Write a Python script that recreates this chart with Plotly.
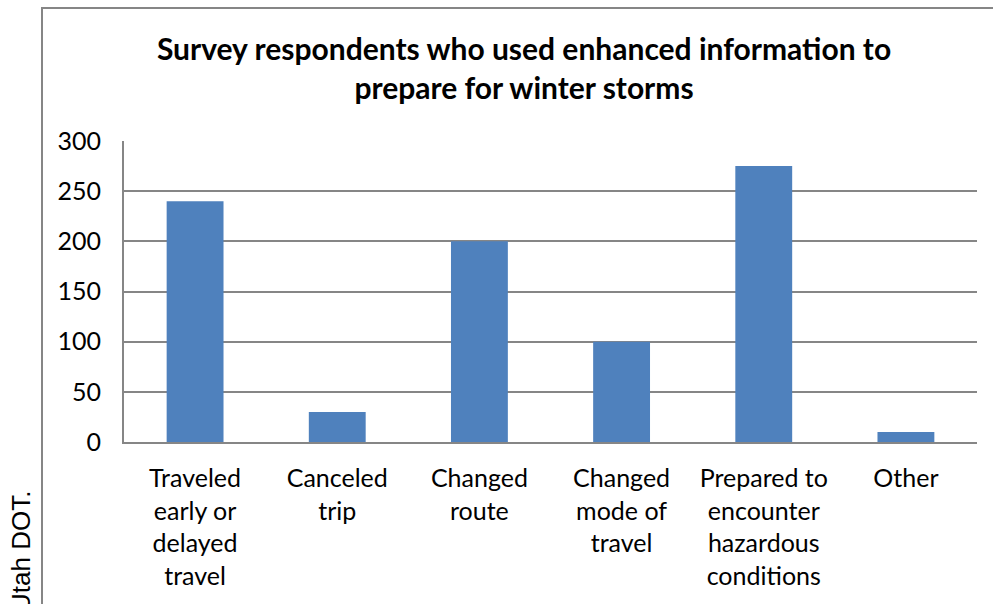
import plotly.graph_objects as go

# Survey responses: actions taken after using enhanced winter storm information
categories = [
    "Traveled<br>early or<br>delayed<br>travel",
    "Canceled<br>trip",
    "Changed<br>route",
    "Changed<br>mode of<br>travel",
    "Prepared to<br>encounter<br>hazardous<br>conditions",
    "Other",
]
respondents = [240, 30, 200, 100, 275, 10]
y_ticks = [0, 50, 100, 150, 200, 250, 300]

W, H = 993, 604
L, R, T, B = 124, 16, 141, 162
PW = W - L - R
PH = H - T - B

def px_x(p):
    return (p - L) / PW

def px_y(p):
    return (H - B - p) / PH

fig = go.Figure(
    go.Bar(
        x=categories,
        y=respondents,
        marker=dict(color="#4F81BD", line=dict(width=0)),
        hoverinfo="x+y",
    )
)

FONT = "Lato, Carlito, Calibri, sans-serif"

fig.update_layout(
    width=W,
    height=H,
    margin=dict(l=L, r=R, t=T, b=B),
    paper_bgcolor="white",
    plot_bgcolor="white",
    bargap=0.6,
    showlegend=False,
    font=dict(family=FONT, size=25, color="black"),
    title=dict(
        text="<b>Survey respondents who used enhanced information to<br>prepare for winter storms</b>",
        xref="container",
        x=524 / W,
        xanchor="center",
        yref="container",
        y=1 - 60 / H,
        yanchor="middle",
        font=dict(family=FONT, size=30, color="black"),
    ),
    xaxis=dict(
        showgrid=False,
        showline=True,
        linecolor="#868686",
        linewidth=2,
        ticks="",
        tickfont=dict(size=25),
        ticklabelstandoff=13,
    ),
    yaxis=dict(
        range=[0, 300],
        tickvals=y_ticks,
        showgrid=True,
        gridcolor="#868686",
        gridwidth=2,
        showline=True,
        linecolor="#868686",
        linewidth=2,
        zeroline=False,
        ticks="",
        tickfont=dict(size=25),
        ticklabelstandoff=16,
    ),
)

# Chart border
fig.add_shape(
    type="rect", xref="paper", yref="paper",
    x0=px_x(42), x1=px_x(1010), y0=px_y(8), y1=px_y(640),
    line=dict(color="#868686", width=2), fillcolor="rgba(0,0,0,0)", layer="below",
)

# Source credit along the left edge
fig.add_annotation(
    text="Utah DOT.", xref="paper", yref="paper",
    x=px_x(21), y=px_y(552), xanchor="center", yanchor="middle",
    textangle=-90, showarrow=False,
    font=dict(family="Liberation Sans, Arial, sans-serif", size=26, color="black"),
)

fig.write_html("out.html")
